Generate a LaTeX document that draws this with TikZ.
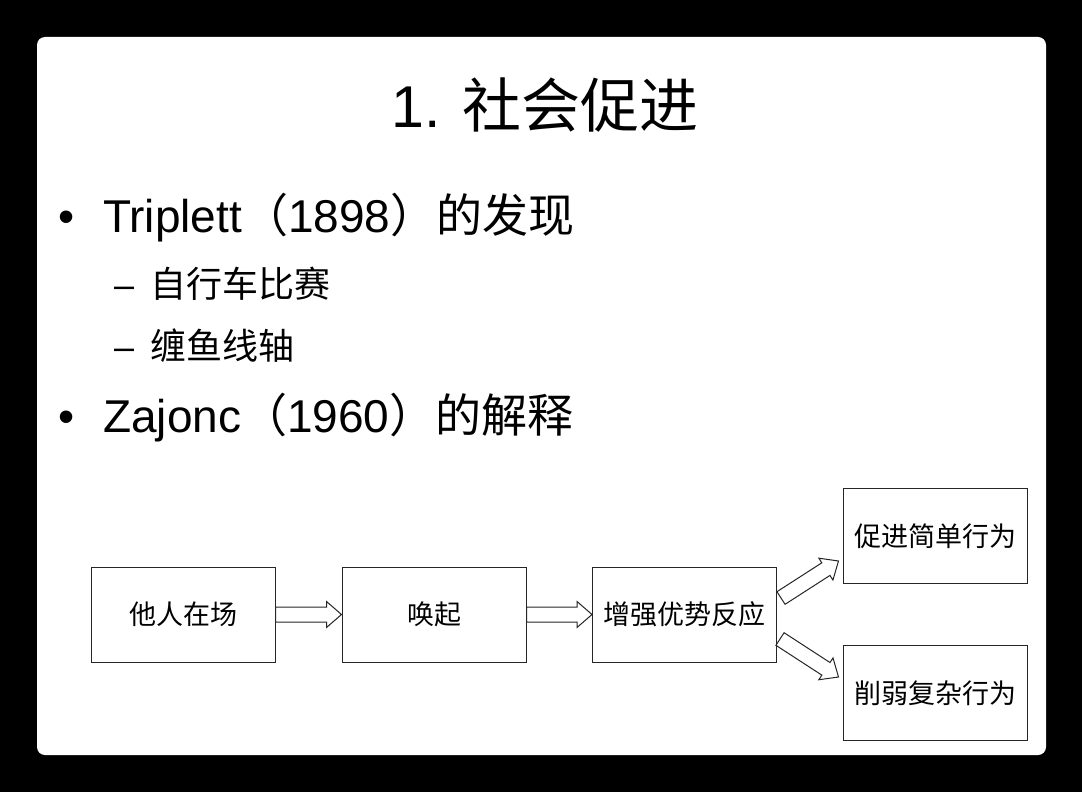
\documentclass[tikz,border=0pt]{standalone}
\usepackage{fontspec}
\setmainfont{Liberation Sans}
\newfontfamily\cjk{Noto Sans CJK SC}
\usetikzlibrary{calc}
\tikzset{
  flowbox/.style={draw=black!85, line width=1pt, fill=white, minimum width=184pt, minimum height=95pt, inner sep=0pt, font=\cjk\fontsize{27}{32}\selectfont},
  blockarrow/.style={draw=black!85, line width=1pt, fill=white, line join=miter},
  bodytext/.style={anchor=base west, inner sep=0pt, font=\fontsize{46}{55}\selectfont},
  subtext/.style={anchor=base west, inner sep=0pt, font=\fontsize{36}{43}\selectfont},
}
\newcommand\blockarr[2]{%
  \coordinate (ba-c) at ($(#2)!15pt!(#1)$);
  \draw[blockarrow] ($(#1)!7.5pt!90:(#2)$) -- ($(ba-c)!7.5pt!-90:(#1)$) -- ($(ba-c)!13pt!-90:(#1)$) -- (#2) -- ($(ba-c)!13pt!90:(#1)$) -- ($(ba-c)!7.5pt!90:(#1)$) -- ($(#1)!7.5pt!-90:(#2)$) -- cycle;
}
\begin{document}
\begin{tikzpicture}[x=1pt,y=-1pt]
  \fill[black] (0,0) rectangle (1082,792);
  \useasboundingbox (0,0) rectangle (1082,792);
  \fill[white, rounded corners=8pt] (37,37) rectangle (1046,755);

  \node[anchor=base, inner sep=0pt, font=\fontsize{59}{70}\selectfont] (title) at (545,128) {1. {\cjk 社会促进}};

  \node[bodytext] (bul1) at (58,232) {•};
  \node[bodytext] (l1) at (103,232) {Triplett{\cjk （}1898{\cjk ）的发现}};
  \node[subtext] (d1) at (114,297) {–};
  \node[subtext] (s1) at (150,297) {\cjk 自行车比赛};
  \node[subtext] (d2) at (114,359) {–};
  \node[subtext] (s2) at (150,359) {\cjk 缠鱼线轴};
  \node[bodytext] (bul2) at (58,432) {•};
  \node[bodytext] (l2) at (103,432) {Zajonc{\cjk （}1960{\cjk ）的解释}};

  \node[flowbox] (b1) at (183,614.5) {他人在场};
  \node[flowbox] (b2) at (434,614.5) {唤起};
  \node[flowbox] (b3) at (684.5,614.5) {增强优势反应};
  \node[flowbox] (b4) at (935,536) {促进简单行为};
  \node[flowbox] (b5) at (935,693) {削弱复杂行为};

  \blockarr{b1.east}{b2.west}
  \blockarr{b2.east}{b3.west}
  \coordinate (t1) at ($(b3.east)+(4,-16.5)$);
  \coordinate (h1) at ($(b4.west)+(-4,25)$);
  \coordinate (t2) at ($(b3.east)+(3,24.5)$);
  \coordinate (h2) at ($(b5.west)+(-4,-16)$);
  \blockarr{t1}{h1}
  \blockarr{t2}{h2}
\end{tikzpicture}
\end{document}
